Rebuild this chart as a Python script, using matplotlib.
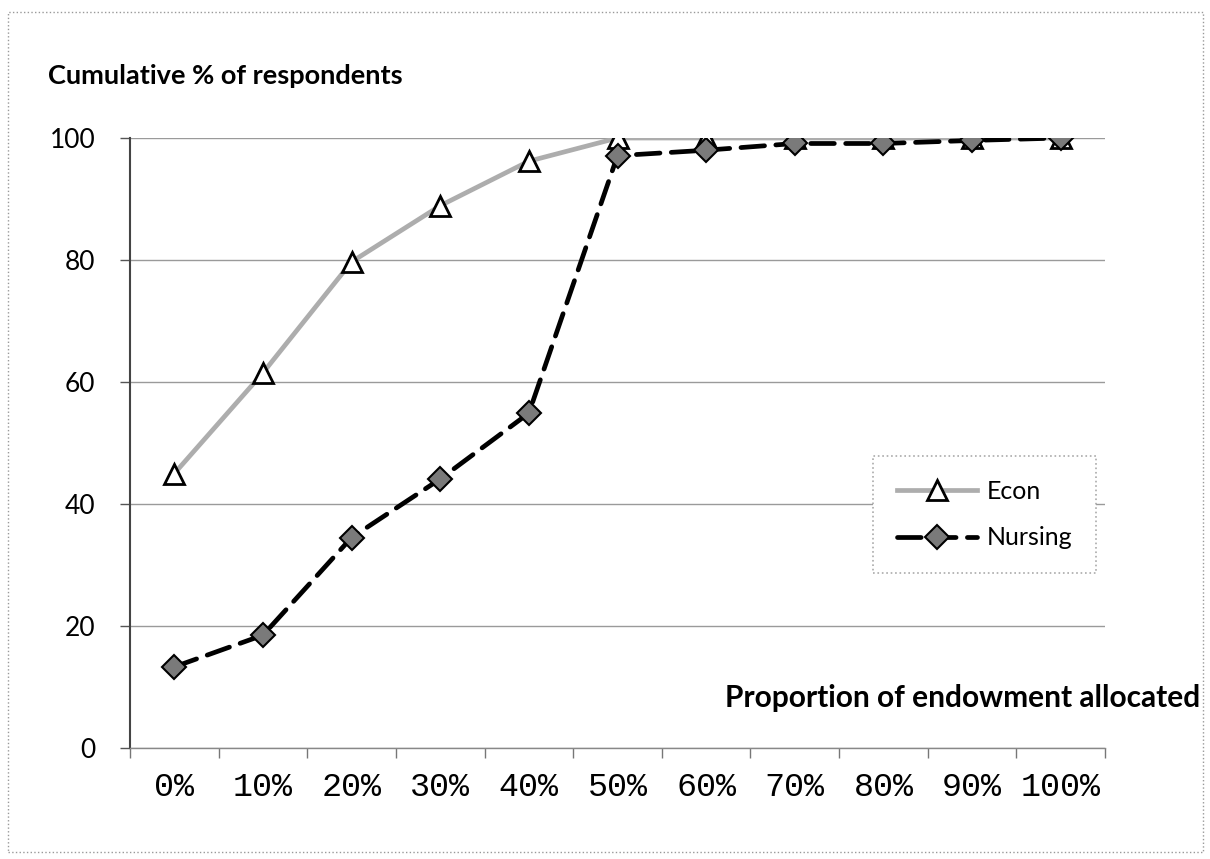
import numpy as np
import matplotlib.pyplot as plt
from matplotlib.patches import Rectangle

# categorias do eixo x e valores
categorias = ["0%", "10%", "20%", "30%", "40%", "50%", "60%", "70%", "80%", "90%", "100%"]
econ = [45.0, 61.5, 79.7, 88.9, 96.2, 100.0, 100.0, 100.0, 100.0, 100.0, 100.0]
nursing = [13.3, 18.5, 34.5, 44.1, 54.9, 97.1, 98.0, 99.1, 99.1, 99.6, 100.0]

W, H = 1210, 859
fig = plt.figure(figsize=(W / 100, H / 100), dpi=100)
ax = fig.add_axes([130 / W, 1 - 748 / H, 975 / W, 610 / H])

x = np.arange(len(categorias))

ax.plot(x, econ, color="#adadad", lw=3.4, marker="^", ms=15,
        mfc="white", mec="black", mew=2, label="Econ", zorder=3)
ax.plot(x, nursing, color="black", lw=3.4, dashes=(5, 2.4), dash_capstyle="round",
        marker="D", ms=12, mfc="#7a7a7a", mec="black", mew=1.5, label="Nursing", zorder=4)

ax.set_xlim(-0.5, len(categorias) - 0.5)
ax.set_ylim(0, 100)
ax.set_yticks([0, 20, 40, 60, 80, 100])
ax.yaxis.grid(True, color="#9a9a9a", lw=1)
ax.set_axisbelow(True)

ax.set_xticks(x)
ax.set_xticklabels(categorias, family="Liberation Mono", fontsize=24)
ax.set_xticks(np.arange(len(categorias) + 1) - 0.5, minor=True)
ax.tick_params(axis="x", which="major", length=0, pad=17)
ax.tick_params(axis="x", which="minor", length=7, width=1, color="#777777", direction="out")
ax.tick_params(axis="y", length=7, width=1, color="#555555", direction="out", pad=18)
for lbl in ax.get_yticklabels():
    lbl.set_family("Lato")
    lbl.set_fontsize(19)

for s in ["top", "right"]:
    ax.spines[s].set_visible(False)
ax.spines["left"].set_color("#444444")
ax.spines["left"].set_linewidth(1.5)
ax.spines["bottom"].set_color("#888888")
ax.spines["bottom"].set_linewidth(1)

leg = ax.legend(loc="upper left", bbox_to_anchor=(0.762, 0.479), prop={"family": "Lato", "size": 18},
                handlelength=3.2, fancybox=False, framealpha=1, borderpad=0.95,
                labelspacing=0.95, handletextpad=0.4, borderaxespad=0)
leg.get_frame().set_edgecolor("#aaaaaa")
leg.get_frame().set_linestyle(":")
leg.get_frame().set_linewidth(1.2)

fig.text(48 / W, 1 - 84 / H, "Cumulative % of respondents", family="Lato", weight="bold",
         fontsize=19.5, va="baseline", ha="left")
fig.text(1200 / W, 1 - 707 / H, "Proportion of endowment allocated", family="Lato",
         weight="bold", fontsize=21.5, va="baseline", ha="right")

fig.patches.append(Rectangle((8 / W, 1 - 852 / H), 1195 / W, 840 / H, transform=fig.transFigure,
                             fill=False, ec="#999999", lw=1, ls=":"))

fig.savefig("out.png", dpi=100)
